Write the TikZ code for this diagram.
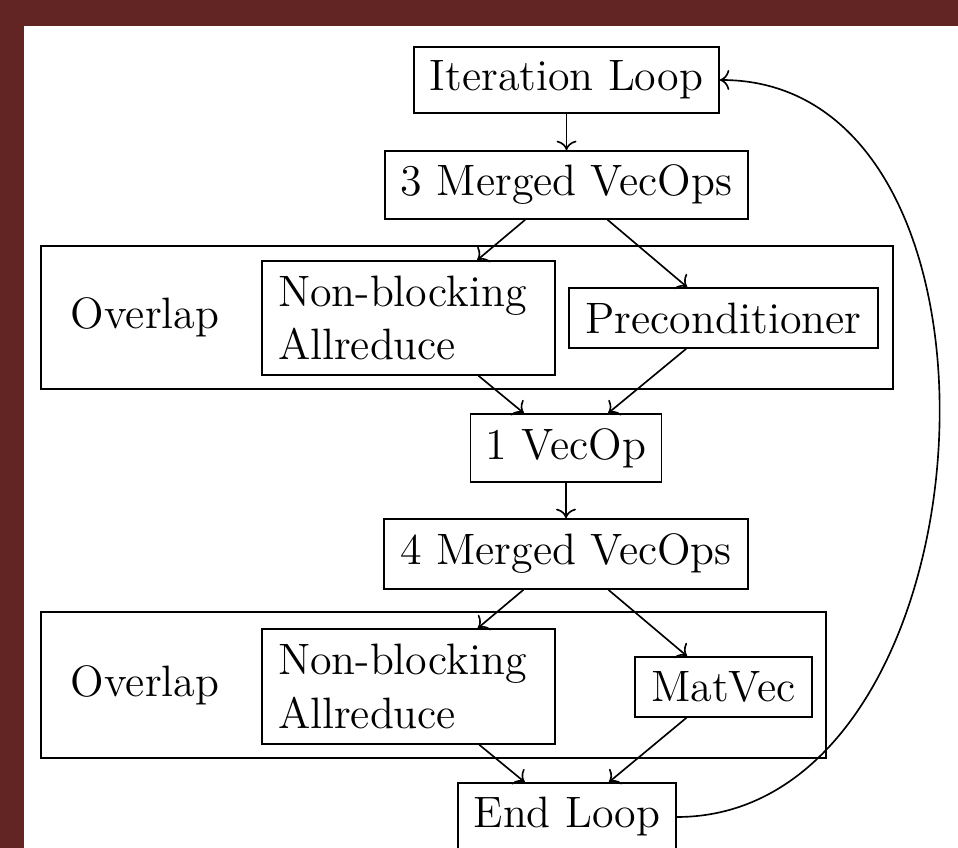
\documentclass[tikz,border=0pt,12pt]{standalone}
\usetikzlibrary{arrows.meta}
\definecolor{maroonbg}{RGB}{99,36,36}
\def\u{0.273pt}
\tikzset{
  box/.style={draw, line width=0.45pt, inner sep=0pt, align=center},
  multibox/.style={draw, line width=0.45pt, inner sep=0pt, align=left},
  groupbox/.style={draw, line width=0.45pt, inner sep=0pt},
  label text/.style={inner sep=0pt},
  conn/.style={->, line width=0.45pt},
}
\begin{document}
\begin{tikzpicture}[x=0.273pt,y=-0.273pt]
\useasboundingbox (0,0) rectangle (958,848);
\fill[maroonbg] (0,0) rectangle (958,848);
\fill[white] (24,26) rectangle (958,848);

% group boxes
\node[groupbox, minimum width=852*\u, minimum height=143*\u] (ov1) at (467,317.5) {};
\node[groupbox, minimum width=785*\u, minimum height=146*\u] (ov2) at (433.5,685) {};
\node[label text] (lbl1) at (145,317.5) {Overlap};
\node[label text] (lbl2) at (145,685) {Overlap};

% main nodes
\node[box, minimum width=305*\u, minimum height=66*\u] (it) at (566.5,80) {Iteration Loop};
\node[box, minimum width=363*\u, minimum height=68*\u] (m3) at (566.5,185) {3 Merged VecOps};
\node[multibox, text width=261*\u, minimum width=293*\u, minimum height=114*\u] (nb1) at (408.5,318) {Non-blocking\\Allreduce};
\node[box, minimum width=309*\u, minimum height=60*\u] (pc) at (723.5,318) {Preconditioner};
\node[box, minimum width=191*\u, minimum height=68*\u] (v1) at (566,448) {1 VecOp};
\node[box, minimum width=364*\u, minimum height=70*\u] (m4) at (566,554) {4 Merged VecOps};
\node[multibox, text width=261*\u, minimum width=293*\u, minimum height=115*\u] (nb2) at (408.5,686.5) {Non-blocking\\Allreduce};
\node[box, minimum width=177*\u, minimum height=60*\u] (mv) at (723.5,687) {MatVec};
\node[box, minimum width=218*\u, minimum height=68*\u] (el) at (567,817) {End Loop};

% connectors
\draw[conn] (it) -- (m3);
\draw[conn] (m3) -- (nb1);
\draw[conn] (m3) -- (pc);
\draw[conn] (nb1) -- (v1);
\draw[conn] (pc) -- (v1);
\draw[conn] (v1) -- (m4);
\draw[conn] (m4) -- (nb2);
\draw[conn] (m4) -- (mv);
\draw[conn] (nb2) -- (el);
\draw[conn] (mv) -- (el);
\draw[conn] (el.east) .. controls +(320,0) and +(320,0) .. (it.east);
\end{tikzpicture}
\end{document}
